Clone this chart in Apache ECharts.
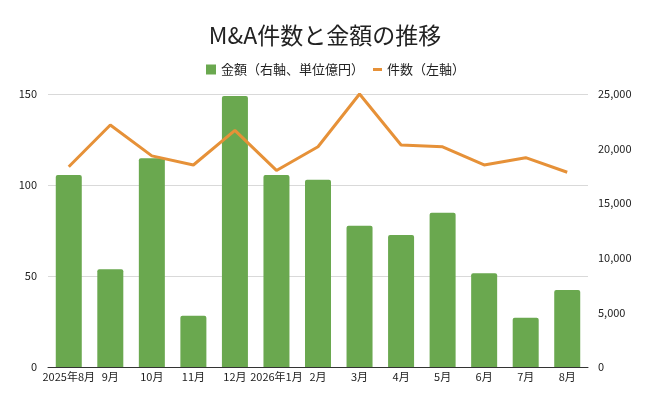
<!DOCTYPE html>
<html>
<head>
<meta charset="utf-8">
<script src="https://cdn.jsdelivr.net/npm/echarts@6/dist/echarts.min.js"></script>
<style>
  html, body { margin: 0; padding: 0; background: #fff; }
  #main { width: 650px; height: 403px; }
</style>
</head>
<body>
<div id="main"></div>
<script>
// 月
var months = ['2025年8月', '9月', '10月', '11月', '12月', '2026年1月', '2月', '3月', '4月', '5月', '6月', '7月', '8月'];
// 金額(億円) 右軸
var amounts = [17580, 8950, 19110, 4700, 24820, 17580, 17150, 12940, 12090, 14130, 8580, 4520, 7050];
// 件数 左軸
var counts = [110, 133, 116, 111, 130, 108, 121, 150, 122, 121, 111, 115, 107];

var leftTicks = [0, 50, 100, 150];
var rightTicks = [0, 5000, 10000, 15000, 20000, 25000];

var FONT = '"Noto Sans CJK JP", "Noto Sans", sans-serif';

var myChart = echarts.init(document.getElementById('main'));

var option = {
  backgroundColor: '#fff',
  animation: false,
  title: {
    text: 'M&A件数と金額の推移',
    left: 'center',
    top: 19,
    textStyle: { fontFamily: FONT, fontSize: 23, fontWeight: 'normal', color: '#222' }
  },
  legend: [
    {
      data: [{ name: '金額（右軸、単位億円）', icon: 'rect' }],
      left: 201,
      top: 58,
      itemWidth: 10,
      itemHeight: 10,
      itemGap: 6,
      textStyle: { fontFamily: FONT, fontSize: 13, color: '#222' }
    },
    {
      data: [{ name: '件数（左軸）', icon: 'rect' }],
      left: 368,
      top: 58,
      itemWidth: 9,
      itemHeight: 3,
      textStyle: { fontFamily: FONT, fontSize: 13, color: '#222' }
    }
  ],
  grid: { left: 48, right: 62, top: 94, bottom: 36 },
  xAxis: {
    type: 'category',
    data: months,
    axisTick: { show: false },
    axisLine: { lineStyle: { color: '#333', width: 1 } },
    axisLabel: { fontFamily: FONT, fontSize: 11, color: '#222', margin: 4, interval: 0 }
  },
  yAxis: [
    {
      type: 'value',
      min: leftTicks[0],
      max: leftTicks[leftTicks.length - 1],
      interval: 50,
      axisLine: { show: false },
      axisTick: { show: false },
      splitLine: { lineStyle: { color: '#d9d9d9', width: 1 } },
      axisLabel: { fontFamily: FONT, fontSize: 11, color: '#222', margin: 11 }
    },
    {
      type: 'value',
      min: rightTicks[0],
      max: rightTicks[rightTicks.length - 1],
      interval: 5000,
      axisLine: { show: false },
      axisTick: { show: false },
      splitLine: { show: false },
      axisLabel: {
        fontFamily: FONT, fontSize: 11, color: '#222', margin: 10,
        formatter: function (v) { return v.toLocaleString('en-US'); }
      }
    }
  ],
  series: [
    {
      name: '金額（右軸、単位億円）',
      type: 'bar',
      yAxisIndex: 1,
      data: amounts,
      barWidth: 26,
      itemStyle: { color: '#6aa84f', borderRadius: [2, 2, 0, 0] }
    },
    {
      name: '件数（左軸）',
      type: 'line',
      yAxisIndex: 0,
      data: counts,
      symbol: 'none',
      lineStyle: { color: '#e69138', width: 3 },
      itemStyle: { color: '#e69138' }
    }
  ]
};

myChart.setOption(option);
</script>
</body>
</html>
